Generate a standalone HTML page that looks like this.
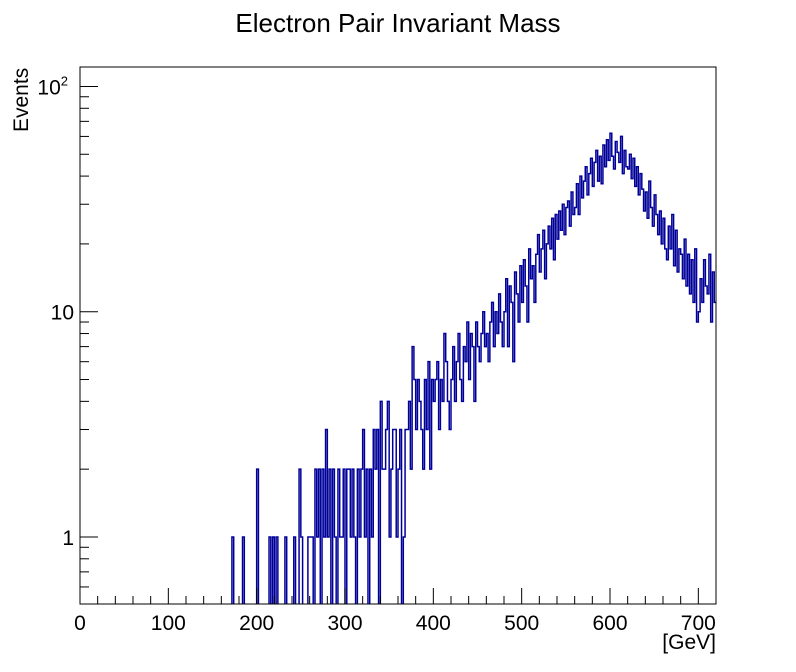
<!DOCTYPE html>
<html><head><meta charset="utf-8"><style>
html,body{margin:0;padding:0;background:#fff}
svg{display:block;font-family:"Liberation Sans",Arial,sans-serif}
</style></head><body>
<svg id="chart" width="796" height="672" viewBox="0 0 796 672">
<rect x="0" y="0" width="796" height="672" fill="#fff"/>
<text x="398" y="32" font-size="26" text-anchor="middle">Electron Pair Invariant Mass</text>
<text transform="translate(28,132) rotate(-90)" font-size="21" text-anchor="start">Events</text>
<text x="716" y="649" font-size="21" text-anchor="end">[GeV]</text>
<g id="plot"></g>
</svg>
<script>
const binStart = 160;
const binWidth = 2;
const counts = [
0,0,0,0,0,0,1,0,0,0,
0,0,1,0,0,0,0,0,0,0,
2,0,0,0,0,0,0,1,0,1,
0,1,0,0,0,0,1,0,0,0,
0,1,0,0,2,1,0,0,0,1,
1,1,0,2,1,2,0,2,1,3,
1,2,0,2,1,0,2,1,1,2,
0,2,2,1,2,1,0,2,1,2,
3,1,2,0,2,1,3,2,3,0,
4,2,2,3,4,1,2,3,3,1,
2,3,0,1,3,3,4,2,7,5,
3,5,4,3,2,5,3,6,2,5,
4,5,6,3,5,4,8,6,4,3,
5,7,4,6,8,5,4,7,6,9,
5,8,7,4,9,7,6,8,10,7,
8,6,9,11,7,10,8,12,9,7,
10,14,7,13,11,6,15,12,9,16,
11,17,13,9,19,14,16,11,18,22,
15,19,23,14,20,24,19,26,17,27,
21,28,23,30,22,29,31,24,34,27,
29,37,27,40,32,38,44,33,41,48,
36,46,52,38,49,37,55,44,58,47,
62,49,43,57,51,46,60,41,52,44,
43,50,39,48,36,44,33,41,35,28,
34,26,38,29,24,33,27,22,28,20,
26,19,17,24,19,27,16,23,15,19,
18,14,21,13,18,12,17,11,19,9,
10,14,11,17,13,12,18,9,15,11
];
const xTicks = [0,100,200,300,400,500,600,700];
const yTickLabels = ["1","10","10²"];
const yTickValues = [1,10,100];

const L=80,R=716,T=67,B=604;
const xMin=0,xMax=720,yMin=0.504,yMax=122;
const X=v=>L+(v-xMin)/(xMax-xMin)*(R-L);
const Y=v=>B-(Math.log10(v)-Math.log10(yMin))/(Math.log10(yMax)-Math.log10(yMin))*(B-T);
const NS="http://www.w3.org/2000/svg";
const g=document.getElementById('plot');
function mk(t,a){const e=document.createElementNS(NS,t);for(const k in a)e.setAttribute(k,a[k]);g.appendChild(e);return e;}

const defs=mk('defs',{});
const cp=document.createElementNS(NS,'clipPath');cp.setAttribute('id','clip');
const cr=document.createElementNS(NS,'rect');cr.setAttribute('x',L);cr.setAttribute('y',T);cr.setAttribute('width',R-L);cr.setAttribute('height',B-T);
cp.appendChild(cr);defs.appendChild(cp);

let d='';const low=B+5;
const yv=c=>c>0?Y(c):low;
d+='M'+X(binStart)+','+low;
counts.forEach((c,i)=>{const x0=X(binStart+i*binWidth),x1=X(binStart+(i+1)*binWidth);const y=yv(c);d+=' L'+x0.toFixed(2)+','+y.toFixed(2)+' L'+x1.toFixed(2)+','+y.toFixed(2);});
const hist=mk('path',{d:d,fill:'none',stroke:'#000099','stroke-width':1.5,'clip-path':'url(#clip)'});



const fr=mk('rect',{x:L,y:T,width:R-L,height:B-T,fill:'none',stroke:'#000','stroke-width':1});



for(let v=0;v<=xMax;v+=20){const major=v%100===0;const t=mk('line',{x1:X(v),x2:X(v),y1:B,y2:B-(major?16:8),stroke:'#000'});

}
xTicks.forEach(v=>{const t=mk('text',{x:X(v),y:B+26,'font-size':21,'text-anchor':'middle'});t.textContent=v;

});

for(let dec=0.1;dec<=100;dec*=10){for(let m=1;m<=9;m++){const v=dec*m;if(v<yMin||v>yMax)continue;const major=m===1;
const t=mk('line',{x1:L,x2:L+(major?18:9),y1:Y(v),y2:Y(v),stroke:'#000'});

}}
yTickValues.forEach((v,i)=>{const t=mk('text',{x:L-6,y:Y(v)+8,'font-size':21,'text-anchor':'end'});
if(i===2){t.textContent='10';const s=document.createElementNS(NS,'tspan');s.setAttribute('dy','-9');s.setAttribute('font-size','13');s.textContent='2';t.appendChild(s);t.setAttribute('x',L-12);}
else t.textContent=yTickLabels[i];

});
</script>
</body></html>
